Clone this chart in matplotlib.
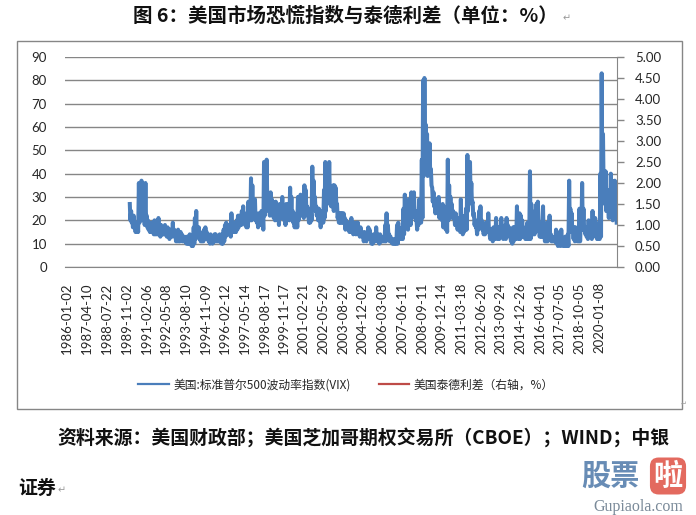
import datetime as dt
import matplotlib
matplotlib.use('Agg')
import matplotlib.pyplot as plt
from matplotlib.patches import Rectangle
from matplotlib.lines import Line2D
from matplotlib.ticker import FormatStrFormatter

# category labels shown on the x axis
tick_labels = ['1986-01-02', '1987-04-10', '1988-07-22', '1989-11-02', '1991-02-06',
               '1992-05-08', '1993-08-10', '1994-11-09', '1996-02-12', '1997-05-14',
               '1998-08-17', '1999-11-17', '2001-02-21', '2002-05-29', '2003-08-29',
               '2004-12-02', '2006-03-08', '2007-06-11', '2008-09-11', '2009-12-14',
               '2011-03-18', '2012-06-20', '2013-09-24', '2014-12-26', '2016-04-01',
               '2017-07-05', '2018-10-05', '2020-01-08']

# VIX, monthly high / low (1990-01 .. 2021-02)
vix_high = [
    27, 24, 21, 22, 19, 18, 19, 36, 32, 37, 28, 24,  # 1990
    36, 22, 20, 19, 19, 19, 17, 20, 17, 18, 21, 18,  # 1991
    18, 17, 17, 18, 15, 17, 15, 16, 16, 19, 16, 14,  # 1992
    14, 16, 14, 15, 14, 13, 13, 12, 13, 13, 14, 11,  # 1993
    12, 17, 21, 24, 17, 17, 14, 13, 15, 16, 17, 15,  # 1994
    14, 13, 14, 13, 13, 14, 14, 13, 13, 14, 13, 14,  # 1995
    16, 18, 19, 18, 17, 17, 23, 18, 18, 19, 20, 22,  # 1996
    22, 22, 24, 26, 23, 22, 22, 28, 25, 38, 35, 28,  # 1997
    29, 23, 21, 23, 23, 24, 24, 45, 44, 46, 31, 29,  # 1998
    32, 29, 28, 27, 28, 26, 24, 27, 26, 30, 25, 25,  # 1999
    27, 26, 27, 34, 30, 24, 22, 21, 23, 30, 30, 31,  # 2000
    30, 28, 35, 33, 26, 22, 25, 25, 43, 37, 30, 26,  # 2001
    25, 25, 22, 23, 24, 33, 45, 38, 42, 45, 33, 31,  # 2002
    35, 35, 34, 27, 23, 23, 23, 23, 23, 21, 20, 19,  # 2003
    18, 17, 21, 17, 19, 16, 19, 19, 15, 17, 15, 14,  # 2004
    15, 12, 14, 17, 16, 13, 12, 14, 13, 17, 14, 12,  # 2005
    14, 13, 12, 12, 18, 23, 18, 14, 13, 12, 11, 12,  # 2006
    12, 18, 19, 15, 14, 17, 25, 31, 26, 22, 29, 23,  # 2007
    32, 28, 32, 24, 20, 24, 29, 24, 46, 80, 81, 61,  # 2008
    57, 52, 53, 42, 34, 32, 29, 29, 27, 30, 26, 23,  # 2009
    27, 26, 19, 22, 46, 35, 30, 27, 24, 22, 23, 19,  # 2010
    20, 21, 29, 18, 18, 22, 25, 48, 43, 45, 36, 28,  # 2011
    23, 20, 17, 20, 24, 26, 20, 17, 17, 19, 19, 23,  # 2012
    14, 16, 14, 17, 14, 21, 15, 17, 17, 21, 14, 17,  # 2013
    18, 21, 18, 17, 13, 12, 17, 17, 17, 26, 14, 23,  # 2014
    22, 20, 17, 15, 15, 19, 17, 41, 27, 20, 20, 24,  # 2015
    27, 28, 18, 16, 16, 26, 15, 14, 19, 19, 22, 14,  # 2016
    12, 12, 13, 16, 15, 12, 11, 16, 12, 11, 13, 11,  # 2017
    14, 37, 25, 23, 16, 17, 17, 15, 14, 25, 22, 36,  # 2018
    25, 17, 17, 14, 20, 18, 16, 24, 18, 21, 13, 16,  # 2019
    19, 40, 83, 57, 38, 41, 33, 26, 33, 40, 37, 26,  # 2020
    37, 28,                                          # 2021
]
vix_low = [
    20, 19, 17, 17, 15, 15, 15, 19, 24, 25, 20, 18,  # 1990
    20, 17, 16, 15, 15, 15, 14, 14, 14, 14, 15, 13,  # 1991
    14, 14, 14, 14, 13, 13, 12, 13, 13, 14, 13, 11,  # 1992
    11, 11, 11, 12, 11, 11, 11, 10, 10, 10, 10, 9,   # 1993
    9, 10, 12, 13, 13, 12, 11, 11, 11, 12, 13, 12,   # 1994
    11, 10, 11, 10, 11, 11, 11, 11, 11, 11, 10, 10,  # 1995
    11, 13, 14, 14, 14, 13, 15, 15, 15, 15, 16, 17,  # 1996
    18, 18, 19, 19, 18, 17, 17, 20, 20, 20, 23, 22,  # 1997
    20, 19, 17, 18, 18, 18, 16, 22, 30, 28, 24, 22,  # 1998
    23, 23, 21, 20, 21, 20, 18, 21, 21, 22, 20, 18,  # 1999
    20, 21, 20, 22, 22, 19, 17, 17, 17, 20, 22, 24,  # 2000
    22, 21, 25, 24, 22, 19, 19, 20, 25, 29, 24, 22,  # 2001
    20, 21, 17, 19, 19, 21, 24, 27, 30, 31, 26, 26,  # 2002
    24, 30, 27, 21, 19, 19, 19, 19, 19, 16, 17, 16,  # 2003
    15, 15, 15, 14, 15, 14, 15, 14, 13, 14, 13, 11,  # 2004
    12, 11, 12, 13, 12, 10, 10, 12, 11, 13, 11, 10,  # 2005
    11, 11, 11, 11, 11, 12, 13, 11, 11, 10, 10, 10,  # 2006
    10, 10, 13, 12, 12, 12, 14, 19, 17, 16, 19, 18,  # 2007
    21, 23, 23, 20, 16, 18, 21, 19, 21, 39, 53, 40,  # 2008
    39, 41, 40, 35, 28, 26, 23, 24, 23, 21, 21, 20,  # 2009
    17, 19, 16, 15, 20, 23, 22, 21, 21, 18, 18, 16,  # 2010
    16, 15, 17, 14, 15, 16, 16, 24, 31, 29, 27, 22,  # 2011
    18, 17, 14, 16, 17, 17, 16, 14, 14, 15, 15, 16,  # 2012
    12, 12, 11, 12, 12, 15, 12, 12, 13, 13, 12, 13,  # 2013
    12, 14, 14, 13, 11, 10, 11, 12, 12, 14, 12, 12,  # 2014
    16, 13, 13, 12, 12, 12, 12, 12, 20, 14, 14, 15,  # 2015
    18, 20, 13, 13, 13, 13, 11, 11, 11, 13, 12, 11,  # 2016
    11, 11, 11, 10, 9, 10, 9, 10, 9, 9, 9, 9,       # 2017
    9, 17, 15, 15, 12, 11, 12, 11, 11, 11, 16, 16,   # 2018
    17, 14, 13, 12, 13, 14, 12, 16, 14, 13, 12, 12,  # 2019
    12, 13, 39, 34, 27, 24, 24, 21, 25, 26, 20, 21,  # 2020
    21, 19,                                          # 2021
]

# TED spread (right axis) - no line visible in the picture, legend entry only
ted_dates = []
ted_values = []

blue = '#4a7ebb'
red = '#be4b48'
grid = '#868686'
txt = '#262626'

plt.rcParams['font.family'] = ['Lato', 'Noto Sans CJK SC', 'DejaVu Sans']

# two points per month (high then low) so the daily noise shows as a band
x, y = [], []
for i, (hi, lo) in enumerate(zip(vix_high, vix_low)):
    yr, mo = 1990 + i // 12, i % 12 + 1
    x += [dt.date(yr, mo, 7), dt.date(yr, mo, 21)]
    y += [hi, lo]

fig = plt.figure(figsize=(6.96, 5.15), dpi=100)
W, H = 696, 515

# chart frame
fig.patches.append(Rectangle((17 / W, 1 - 409 / H), 665 / W, 368 / H, transform=fig.transFigure,
                             fill=False, ec=grid, lw=1))

ax = fig.add_axes([65 / W, 1 - 267 / H, 552 / W, 210 / H])
ax.plot(x, y, color=blue, lw=2.9, solid_joinstyle='round')

tick_pos = [dt.datetime.strptime(s, '%Y-%m-%d').date() for s in tick_labels]
ax.set_xticks(tick_pos)
ax.set_xticklabels(tick_labels, rotation=90)
ax.set_xlim(dt.date(1985, 11, 16), dt.date(2021, 2, 28))
ax.set_ylim(0, 90)
ax.set_yticks(range(0, 100, 10))
ax.yaxis.grid(True, color=grid, lw=1)
ax.set_axisbelow(True)
for s in ['left', 'top', 'right']:
    ax.spines[s].set_visible(False)
ax.spines['bottom'].set_color(grid)
ax.tick_params(axis='y', length=0, pad=13, labelsize=9.5, labelcolor=txt)
ax.tick_params(axis='x', length=0, pad=11, labelsize=9.5, labelcolor=txt)

ax2 = ax.twinx()
ax2.plot(ted_dates, ted_values, color=red, lw=2.2)
ax2.set_ylim(0, 5)
ax2.set_yticks([i * 0.5 for i in range(11)])
ax2.yaxis.set_major_formatter(FormatStrFormatter('%.2f'))
for s in ['left', 'top', 'bottom']:
    ax2.spines[s].set_visible(False)
ax2.spines['right'].set_color(grid)
ax2.tick_params(axis='y', length=5, width=1, color=grid, pad=8, labelsize=9.5, labelcolor=txt)

handles = [Line2D([], [], color=blue, lw=1.6), Line2D([], [], color=red, lw=1.6)]
fig.legend(handles, ['美国:标准普尔500波动率指数(VIX)', '美国泰德利差（右轴，%）'],
           loc='center', bbox_to_anchor=(346 / W, 1 - 385 / H), ncol=2, frameon=False,
           prop={'family': ['Noto Sans CJK SC', 'DejaVu Sans'], 'size': 8.5},
           handlelength=2.6, handletextpad=0.35, columnspacing=2.4, labelcolor=txt)

# title and source note
fig.text(345 / W, 1 - 16 / H, '图 6：美国市场恐慌指数与泰德利差（单位：%）', ha='center', va='center',
         fontsize=14, fontweight='bold', family=['Noto Sans CJK SC', 'DejaVu Sans'], color='#111111')
fig.text(563 / W, 1 - 18 / H, '↵', ha='left', va='center', fontsize=7, color='#999999',
         family=['DejaVu Sans'])
fig.text(57 / W, 1 - 438 / H, '资料来源：美国财政部；美国芝加哥期权交易所（CBOE）；WIND；中银',
         ha='left', va='center', fontsize=13.6, fontweight='bold',
         family=['Noto Sans CJK SC', 'DejaVu Sans'], color='#111111')
fig.text(18 / W, 1 - 488 / H, '证券', ha='left', va='center', fontsize=13.6, fontweight='bold',
         family=['Noto Sans CJK SC', 'DejaVu Sans'], color='#111111')
fig.text(58 / W, 1 - 490 / H, '↵', ha='left', va='center', fontsize=7, color='#999999',
         family=['DejaVu Sans'])
fig.text(681 / W, 1 - 404 / H, '↵', ha='left', va='center', fontsize=5, color='#999999',
         family=['DejaVu Sans'])

# watermark
fig.text(581 / W, 1 - 476 / H, '股票', ha='left', va='center', fontsize=21, fontweight='bold',
         family=['Noto Sans CJK SC'], color='#4d78a8', alpha=0.85)
fig.text(668 / W, 1 - 476 / H, '啦', ha='center', va='center', fontsize=21, fontweight='bold',
         family=['Noto Sans CJK SC'], color='white',
         bbox=dict(boxstyle='round,pad=0.12,rounding_size=0.3', fc='#e05a4e', ec='none', alpha=0.9))
fig.text(638 / W, 1 - 507 / H, 'Gupiaola.com', ha='center', va='center', fontsize=11.5,
         family=['Liberation Serif'], color='#7a8a99')

fig.savefig('out.png', dpi=100)
